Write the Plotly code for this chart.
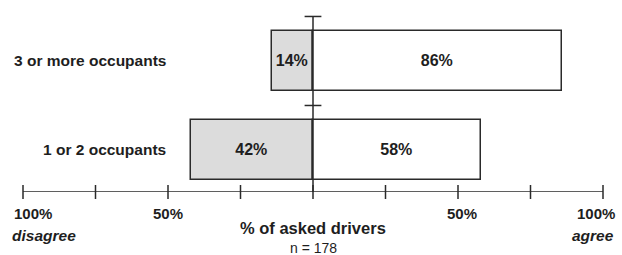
import plotly.graph_objects as go

categories = ["1 or 2 occupants", "3 or more occupants"]
cat_pos = [1, 2]
disagree = [42, 14]
agree = [58, 86]
tick_vals = [-100, -75, -50, -25, 0, 25, 50, 75, 100]
cap_pos = [1.5, 2.5]
axis_y = 0.528

FONT = "Liberation Sans"
INK = "#1e1e1e"
fig = go.Figure()

fig.add_trace(go.Bar(
    y=cat_pos, x=[-v for v in disagree], orientation="h", width=0.674,
    marker=dict(color="#dcdcdc", line=dict(color="#2a2a2a", width=1.5)),
    text=[f"{v}%" for v in disagree], textposition="inside",
    insidetextanchor="middle",
    textfont=dict(family=FONT, size=16, color=INK, weight="bold"),
    showlegend=False, hoverinfo="skip"))
fig.add_trace(go.Bar(
    y=cat_pos, x=agree, orientation="h", width=0.674,
    marker=dict(color="white", line=dict(color="#2a2a2a", width=1.5)),
    text=[f"{v}%" for v in agree], textposition="inside",
    insidetextanchor="middle",
    textfont=dict(family=FONT, size=16, color=INK, weight="bold"),
    showlegend=False, hoverinfo="skip"))

# center vertical line
fig.add_trace(go.Scatter(x=[0, 0], y=[axis_y, max(cap_pos)], mode="lines",
                         line=dict(color="#2a2a2a", width=1.5),
                         showlegend=False, hoverinfo="skip", cliponaxis=False))
# caps
fig.add_trace(go.Scatter(x=[0] * len(cap_pos), y=cap_pos, mode="markers",
                         marker=dict(symbol="line-ew", size=12,
                                     line=dict(color="#2a2a2a", width=1.5)),
                         showlegend=False, hoverinfo="skip", cliponaxis=False))
# axis line
fig.add_trace(go.Scatter(x=[tick_vals[0], tick_vals[-1]], y=[axis_y, axis_y],
                         mode="lines", line=dict(color="#2a2a2a", width=1.5),
                         showlegend=False, hoverinfo="skip", cliponaxis=False))
# axis ticks
fig.add_trace(go.Scatter(x=tick_vals, y=[axis_y] * len(tick_vals), mode="markers",
                         marker=dict(symbol="line-ns", size=10,
                                     line=dict(color="#2a2a2a", width=1.5)),
                         showlegend=False, hoverinfo="skip", cliponaxis=False))

fig.update_layout(
    width=622, height=255, margin=dict(l=23, r=19, t=0, b=63),
    plot_bgcolor="white", paper_bgcolor="white",
    barmode="relative", bargap=0,
    xaxis=dict(range=[-100, 100], visible=False, fixedrange=True),
    yaxis=dict(range=[axis_y, 2.685], visible=False, fixedrange=True),
    uniformtext=dict(minsize=16, mode="show"),
    font=dict(family=FONT, color=INK),
)

ann = []
for c, p in zip(categories, cat_pos):
    ann.append(dict(x=0.25, xref="paper", y=p, yref="y", text=f"<b>{c}</b>",
                    xanchor="right", yanchor="middle", showarrow=False,
                    font=dict(size=15.5)))
ann += [
    dict(x=-100, y=axis_y, xref="x", yref="y", text="<b>100%</b>", xanchor="left",
         yanchor="middle", xshift=-11, yshift=-21, showarrow=False, font=dict(size=15)),
    dict(x=-100, y=axis_y, xref="x", yref="y", text="<b><i>disagree</i></b>", xanchor="left",
         yanchor="middle", xshift=-13, yshift=-43, showarrow=False, font=dict(size=15.5)),
    dict(x=-50, y=axis_y, xref="x", yref="y", text="<b>50%</b>", xanchor="center",
         yanchor="middle", yshift=-21, showarrow=False, font=dict(size=15)),
    dict(x=50, y=axis_y, xref="x", yref="y", text="<b>50%</b>", xanchor="center",
         yanchor="middle", xshift=4, yshift=-21, showarrow=False, font=dict(size=15)),
    dict(x=100, y=axis_y, xref="x", yref="y", text="<b>100%</b>", xanchor="right",
         yanchor="middle", xshift=14, yshift=-21, showarrow=False, font=dict(size=15)),
    dict(x=100, y=axis_y, xref="x", yref="y", text="<b><i>agree</i></b>", xanchor="right",
         yanchor="middle", xshift=13, yshift=-43, showarrow=False, font=dict(size=15.5)),
    dict(x=0, y=axis_y, xref="x", yref="y", text="<b>% of asked drivers</b>", xanchor="center",
         yanchor="middle", yshift=-36, showarrow=False, font=dict(size=16.5)),
    dict(x=0, y=axis_y, xref="x", yref="y", text="n = 178", xanchor="center",
         yanchor="middle", yshift=-56, showarrow=False, font=dict(size=14)),
]
fig.update_layout(annotations=ann)

fig.write_html("out.html", config={"displayModeBar": False},
               post_script="document.body.style.margin='0';document.body.style.overflow='hidden';")
